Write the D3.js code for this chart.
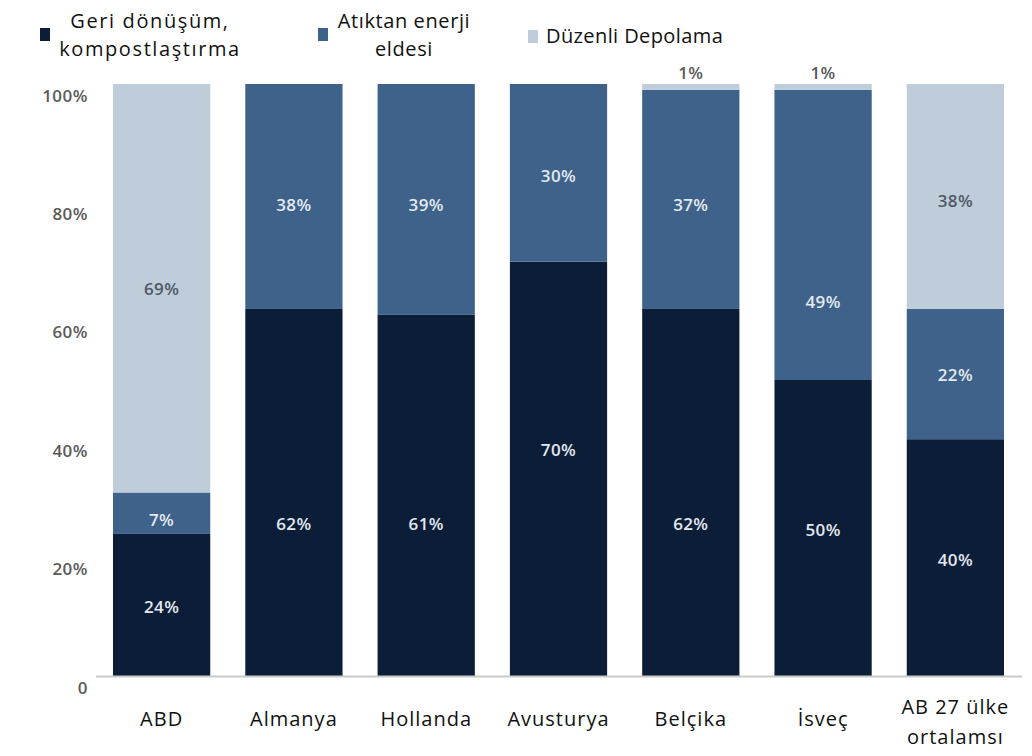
<!DOCTYPE html>
<html>
<head>
<meta charset="utf-8">
<script src="https://cdn.jsdelivr.net/npm/d3@7"></script>
<style>
  html, body { margin: 0; padding: 0; background: #ffffff; }
  svg { display: block; }
  text { font-family: "Open Sans", "DejaVu Sans", sans-serif; }
</style>
</head>
<body>
<svg id="chart" width="1032" height="756"></svg>
<script>
// Waste management shares by country (percent of municipal waste)
const categories = ["ABD", "Almanya", "Hollanda", "Avusturya", "Belçika", "İsveç", "AB 27 ülke ortalamsı"];
const categoryLines = [["ABD"], ["Almanya"], ["Hollanda"], ["Avusturya"], ["Belçika"], ["İsveç"], ["AB 27 ülke", "ortalamsı"]];

const recycling = [24, 62, 61, 70, 62, 50, 40];   // Geri dönüşüm, kompostlaştırma
const energy    = [7, 38, 39, 30, 37, 49, 22];    // Atıktan enerji eldesi
const landfill  = [69, 0, 0, 0, 1, 1, 38];        // Düzenli Depolama

const yTicks = [0, 20, 40, 60, 80, 100];

// Where each value label sits, in axis percent
const recyclingLabelAt = [11.7, 25.8, 25.8, 38.2, 25.8, 24.7, 19.6];
const energyLabelAt    = [26.5, 79.6, 79.6, 84.5, 79.6, 63.2, 51];
const landfillLabelAt  = [65.5, null, null, null, 102, 102, 80.4];

const seriesNames = ["Geri dönüşüm, kompostlaştırma", "Atıktan enerji eldesi", "Düzenli Depolama"];
const colors = ["#0b1d37", "#3e6289", "#bfcddb"];

const svg = d3.select("#chart");

const x = d3.scaleBand().domain(categories).range([113, 1004]).paddingInner(0.265).paddingOuter(0);
const y = d3.scaleLinear().domain([0, 100]).range([676, 84]);

// Stack the three series
const rows = categories.map((c, i) => ({ cat: c, r: recycling[i], e: energy[i], l: landfill[i] }));
const stack = d3.stack().keys(["r", "e", "l"]);
const layers = stack(rows);
const labelAts = [recyclingLabelAt, energyLabelAt, landfillLabelAt];

// Bars
svg.append("g").selectAll("g")
  .data(layers)
  .join("g")
  .attr("fill", (d, i) => colors[i])
  .selectAll("rect")
  .data(d => d)
  .join("rect")
  .attr("x", d => x(d.data.cat))
  .attr("width", x.bandwidth())
  .attr("y", d => y(d[1]))
  .attr("height", d => y(d[0]) - y(d[1]));

// Baseline
svg.append("line")
  .attr("x1", 96).attr("x2", 1022)
  .attr("y1", y(0) + 0.5).attr("y2", y(0) + 0.5)
  .attr("stroke", "#c9c9c9").attr("stroke-width", 2);

// Y tick labels (sit a little below their gridline level)
svg.append("g").selectAll("text")
  .data(yTicks)
  .join("text")
  .attr("x", 88)
  .attr("y", d => y(d) + 11)
  .attr("text-anchor", "end")
  .attr("dominant-baseline", "central")
  .attr("font-size", 17)
  .attr("font-weight", 600)
  .attr("letter-spacing", 0.5)
  .attr("fill", "#5a5a5a")
  .text(d => d === 0 ? "0" : d + "%");

// Value labels
layers.forEach((layer, si) => {
  svg.append("g").selectAll("text")
    .data(layer.filter(d => (d[1] - d[0]) > 0))
    .join("text")
    .attr("x", d => x(d.data.cat) + x.bandwidth() / 2)
    .attr("y", d => {
      const i = categories.indexOf(d.data.cat);
      const at = labelAts[si][i];
      return y(at != null ? at : (d[0] + d[1]) / 2);
    })
    .attr("text-anchor", "middle")
    .attr("dominant-baseline", "central")
    .attr("font-size", 17)
    .attr("font-weight", 600)
    .attr("letter-spacing", 0.4)
    .attr("fill", d => {
      const v = d[1] - d[0];
      if (si === 2) return v <= 1 ? "#5a5a5a" : "#4f5966";
      return "#e3e9f1";
    })
    .text(d => (d[1] - d[0]) + "%");
});

// Category labels
const catG = svg.append("g").selectAll("text")
  .data(categories)
  .join("text")
  .attr("x", d => x(d) + x.bandwidth() / 2)
  .attr("text-anchor", "middle")
  .attr("font-size", 20)
  .attr("letter-spacing", 1)
  .attr("fill", "#111");
catG.each(function (d, i) {
  const lines = categoryLines[i];
  const t = d3.select(this);
  const y0 = lines.length === 1 ? 718 : 706;
  lines.forEach((ln, k) => {
    t.append("tspan")
      .attr("x", x(d) + x.bandwidth() / 2)
      .attr("y", y0 + k * 30)
      .attr("dominant-baseline", "central")
      .text(ln);
  });
});

// Legend
const legendItems = [
  { sx: 40, sy: 28, lines: ["Geri dönüşüm,", "kompostlaştırma"], tx: 150, anchor: "middle", ls: 1.6 },
  { sx: 318, sy: 28, lines: ["Atıktan enerji", "eldesi"], tx: 404, anchor: "middle", ls: 0.6 },
  { sx: 528, sy: 30, lines: ["Düzenli Depolama"], tx: 546, anchor: "start", ls: 0.4 }
];
const leg = svg.append("g");
legendItems.forEach((it, i) => {
  leg.append("rect")
    .attr("x", it.sx).attr("y", it.sy)
    .attr("width", 10).attr("height", 13)
    .attr("fill", colors[i]);
  const t = leg.append("text")
    .attr("text-anchor", it.anchor)
    .attr("font-size", 20)
    .attr("letter-spacing", it.ls)
    .attr("fill", "#111");
  const y0 = it.lines.length === 1 ? 35 : 20;
  it.lines.forEach((ln, k) => {
    t.append("tspan")
      .attr("x", it.tx)
      .attr("y", y0 + k * 28)
      .attr("dominant-baseline", "central")
      .text(ln);
  });
});
</script>
</body>
</html>
